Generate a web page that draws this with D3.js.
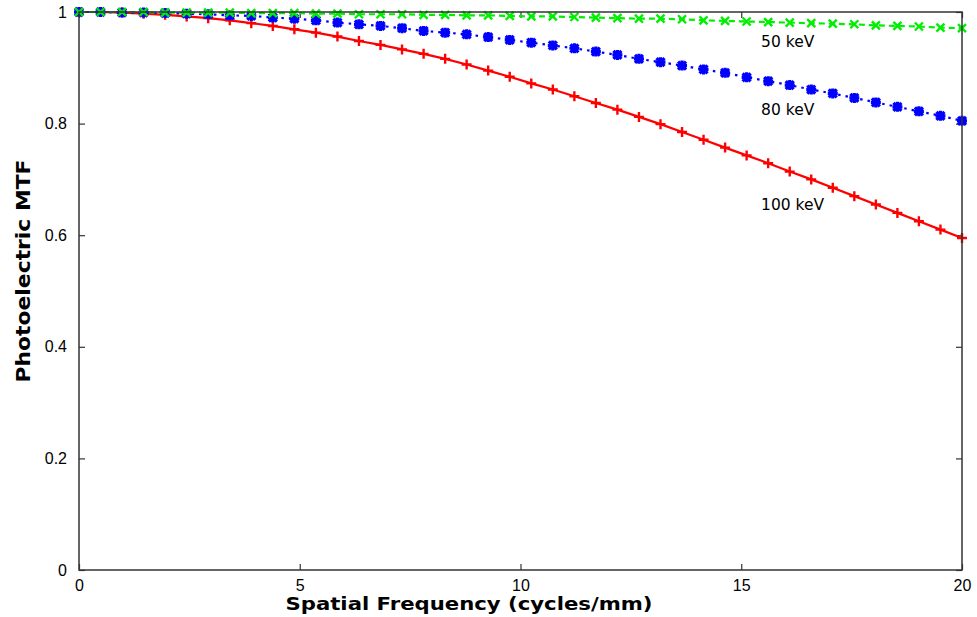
<!DOCTYPE html>
<html>
<head>
<meta charset="utf-8">
<script src="https://cdn.jsdelivr.net/npm/d3@7"></script>
<style>
  html, body { margin: 0; padding: 0; background: #fff; }
  svg { display: block; }
</style>
</head>
<body>
<svg id="chart" width="977" height="617"></svg>
<script>
// Spatial frequency samples (cycles/mm)
const freq = [
  0, 0.488, 0.976, 1.463, 1.951, 2.439, 2.927, 3.415, 3.902, 4.390,
  4.878, 5.366, 5.854, 6.341, 6.829, 7.317, 7.805, 8.293, 8.780, 9.268,
  9.756, 10.244, 10.732, 11.220, 11.707, 12.195, 12.683, 13.171, 13.659, 14.146,
  14.634, 15.122, 15.610, 16.098, 16.585, 17.073, 17.561, 18.049, 18.537, 19.024,
  19.512, 20
];

// Photoelectric MTF per beam energy
const mtf50 = [
  1.000, 1.000, 1.000, 1.000, 0.999, 0.999, 0.999, 0.999, 0.998, 0.998,
  0.998, 0.997, 0.997, 0.996, 0.996, 0.996, 0.995, 0.995, 0.994, 0.994,
  0.993, 0.992, 0.992, 0.991, 0.990, 0.989, 0.988, 0.988, 0.987, 0.985,
  0.984, 0.983, 0.982, 0.981, 0.980, 0.979, 0.978, 0.976, 0.975, 0.974,
  0.972, 0.971
];
const mtf80 = [
  1.000, 1.000, 0.999, 0.999, 0.998, 0.997, 0.996, 0.994, 0.993, 0.990,
  0.988, 0.985, 0.981, 0.978, 0.975, 0.971, 0.966, 0.963, 0.960, 0.955,
  0.950, 0.945, 0.940, 0.935, 0.929, 0.923, 0.916, 0.910, 0.904, 0.897,
  0.891, 0.883, 0.876, 0.869, 0.861, 0.854, 0.846, 0.838, 0.830, 0.822,
  0.814, 0.805
];
const mtf100 = [
  1.000, 1.000, 0.999, 0.997, 0.995, 0.992, 0.989, 0.985, 0.980, 0.975,
  0.969, 0.963, 0.956, 0.948, 0.941, 0.933, 0.925, 0.916, 0.906, 0.895,
  0.884, 0.872, 0.861, 0.849, 0.837, 0.825, 0.812, 0.799, 0.785, 0.771,
  0.757, 0.743, 0.729, 0.714, 0.700, 0.685, 0.670, 0.655, 0.640, 0.625,
  0.610, 0.595
];

const xTicks = [0, 5, 10, 15, 20];
const yTicks = [0, 0.2, 0.4, 0.6, 0.8, 1];
const yTickLabels = ["0", "0.2", "0.4", "0.6", "0.8", "1"];

const seriesNames = ["100 keV", "80 keV", "50 keV"];
const seriesValues = [mtf100, mtf80, mtf50];
const seriesColors = ["#ff0000", "#0000ff", "#00ee00"];
const seriesDash = [null, "2.5,5", "6,4"];
const seriesSymbol = ["plus", "star", "cross"];
// label anchor (frequency, MTF) for each curve
const labelPos = [[15.45, 0.645], [15.45, 0.815], [15.45, 0.937]];

const svg = d3.select("#chart");
const margin = { left: 79, right: 15, top: 12, bottom: 47 };
const W = 977, H = 617;

const x = d3.scaleLinear().domain([0, 20]).range([margin.left, W - margin.right]);
const y = d3.scaleLinear().domain([0, 1]).range([H - margin.bottom, margin.top]);

const axisColor = "#333";
const tickFont = "'Liberation Sans', Arial, sans-serif";
const labelFont = "'DejaVu Sans', sans-serif";

// Axes: outward-facing labels, ticks drawn inward
const xAxis = d3.axisBottom(x).tickValues(xTicks).tickSize(-6).tickPadding(10).tickFormat(d3.format("d"));
const yAxis = d3.axisLeft(y).tickValues(yTicks).tickSize(-6).tickPadding(12)
  .tickFormat((d, i) => yTickLabels[i]);

const gx = svg.append("g").attr("transform", `translate(0,${y(0)})`).call(xAxis);
const gy = svg.append("g").attr("transform", `translate(${x(0)},0)`).call(yAxis);
[gx, gy].forEach(g => {
  g.select(".domain").remove();
  g.selectAll(".tick line").attr("stroke", axisColor).attr("stroke-width", 1.2);
  g.selectAll(".tick text").attr("fill", "#000")
    .style("font-family", tickFont).style("font-size", "16px");
});

// Mirrored ticks on top and right borders
const gxTop = svg.append("g").attr("transform", `translate(0,${y(1)})`)
  .call(d3.axisTop(x).tickValues(xTicks).tickSize(-6).tickFormat(""));
const gyRight = svg.append("g").attr("transform", `translate(${x(20)},0)`)
  .call(d3.axisRight(y).tickValues(yTicks).tickSize(-6).tickFormat(""));
[gxTop, gyRight].forEach(g => {
  g.select(".domain").remove();
  g.selectAll(".tick line").attr("stroke", axisColor).attr("stroke-width", 1.2);
});

// Curves
const line = d3.line().x((d, i) => x(freq[i])).y(d => y(d));
const markerPath = {
  plus: "M-5,0H5M0,-5V5",
  cross: "M-4,-4L4,4M-4,4L4,-4",
  star: "M-5,0H5M0,-5V5M-4,-4L4,4M-4,4L4,-4"
};

seriesValues.forEach((vals, s) => {
  const g = svg.append("g");
  g.append("path")
    .attr("d", line(vals))
    .attr("fill", "none")
    .attr("stroke", seriesColors[s])
    .attr("stroke-width", 2.2)
    .attr("stroke-dasharray", seriesDash[s]);
  g.selectAll("path.pt").data(vals).enter().append("path")
    .attr("class", "pt")
    .attr("transform", (d, i) => `translate(${x(freq[i])},${y(d)})`)
    .attr("d", markerPath[seriesSymbol[s]])
    .attr("stroke", seriesColors[s])
    .attr("stroke-width", seriesSymbol[s] === "star" ? 3.2 : 2.4)
    .attr("fill", "none");
});

// Series labels
seriesNames.forEach((name, s) => {
  svg.append("text")
    .attr("x", x(labelPos[s][0]))
    .attr("y", y(labelPos[s][1]))
    .style("font-family", labelFont)
    .style("font-size", "15.5px")
    .attr("fill", "#000")
    .text(name);
});

// Plot border
svg.append("rect")
  .attr("x", x(0)).attr("y", y(1))
  .attr("width", x(20) - x(0)).attr("height", y(0) - y(1))
  .attr("fill", "none").attr("stroke", axisColor).attr("stroke-width", 1.5);

// Axis titles
svg.append("text")
  .attr("x", 469).attr("y", 610)
  .attr("text-anchor", "middle")
  .attr("textLength", 367).attr("lengthAdjust", "spacingAndGlyphs")
  .style("font-family", labelFont).style("font-weight", "bold").style("font-size", "18.5px")
  .text("Spatial Frequency (cycles/mm)");

svg.append("text")
  .attr("transform", "translate(30,271) rotate(-90)")
  .attr("text-anchor", "middle")
  .attr("textLength", 223).attr("lengthAdjust", "spacingAndGlyphs")
  .style("font-family", labelFont).style("font-weight", "bold").style("font-size", "19px")
  .text("Photoelectric MTF");
</script>
</body>
</html>
